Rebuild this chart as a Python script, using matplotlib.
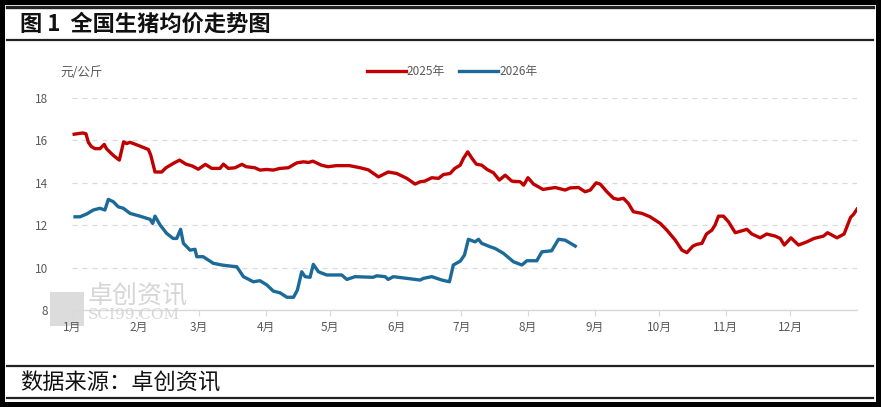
import matplotlib
matplotlib.use("Agg")
import matplotlib.pyplot as plt
from matplotlib.lines import Line2D
from matplotlib.patches import Rectangle

plt.rcParams['font.family'] = ['Noto Sans CJK SC', 'DejaVu Sans']

# x = 年内天数 (1月1日 = 0)
red_days = [1, 5, 6.5, 7.6, 9, 10.7, 13, 15, 16, 19,
            22, 24, 25.4, 27, 31.6, 35.5, 36.6, 38.6, 41.7, 43.7,
            47, 50, 53, 56, 58.7, 62, 65, 68.8, 70.4, 72.7,
            75.8, 79, 81, 85, 87.4, 90.5, 93.6, 96.7, 100.6, 104.5,
            107.6, 110, 112, 116, 119, 123, 129, 134, 137.8, 142.5,
            147, 151, 155.7, 159.5, 161.9, 164, 167.3, 170.4, 172.7, 175.8,
            178, 180.5, 182, 184, 186, 188, 190.5, 193, 196, 198.7,
            201.4, 204.5, 208.4, 210, 212, 214.6, 219, 224.7, 229.3, 231.6,
            235.5, 238.6, 241, 243.7, 245.6, 248.7, 251.8, 254, 256.4, 258.7,
            261, 265, 268.8, 273.5, 276.6, 280.5, 283.6, 285.9, 288.7, 290.5,
            292.9, 295, 297.5, 299, 300.6, 302.9, 305.2, 308.4, 311.5, 313.8,
            316.1, 320, 323, 327, 329.3, 331.2, 334.3, 337.8, 341.7, 345,
            349.4, 351.3, 355.7, 359, 362, 363.5, 365]
price_2025 = [16.28, 16.34, 16.30, 15.9, 15.7, 15.6, 15.6, 15.8, 15.6, 15.3,
              15.06, 15.92, 15.84, 15.9, 15.72, 15.56, 15.3, 14.5, 14.5, 14.7,
              14.9, 15.06, 14.87, 14.78, 14.63, 14.86, 14.67, 14.67, 14.87, 14.67,
              14.7, 14.86, 14.75, 14.7, 14.59, 14.62, 14.59, 14.67, 14.7, 14.93,
              14.98, 14.95, 15.01, 14.82, 14.75, 14.8, 14.8, 14.7, 14.6, 14.27,
              14.5, 14.43, 14.2, 13.93, 14.04, 14.07, 14.23, 14.2, 14.38, 14.43,
              14.67, 14.82, 15.14, 15.45, 15.14, 14.87, 14.82, 14.62, 14.46, 14.12,
              14.35, 14.07, 14.04, 13.88, 14.23, 13.93, 13.68, 13.77, 13.65, 13.75,
              13.77, 13.57, 13.65, 13.99, 13.93, 13.57, 13.26, 13.21, 13.26, 13.02,
              12.63, 12.55, 12.39, 12.08, 11.76, 11.29, 10.82, 10.7, 11.01, 11.09,
              11.14, 11.58, 11.76, 12.0, 12.42, 12.42, 12.16, 11.64, 11.73, 11.8,
              11.58, 11.4, 11.58, 11.48, 11.37, 11.06, 11.4, 11.06, 11.21, 11.37,
              11.48, 11.64, 11.4, 11.58, 12.36, 12.52, 12.75]

blue_days = [1.4, 3.7, 6.8, 9.9, 13, 15.3, 16.9, 19.2, 21.5, 23.9,
             27, 31.6, 36.3, 37.5, 38.6, 41, 44, 47, 48.7, 50.5,
             51.8, 54.9, 57.2, 58, 61, 65.7, 69.6, 73.5, 76.6, 79.7,
             84.3, 87.4, 90.6, 93.6, 96.7, 99.9, 103, 104.8, 106.8, 108.4,
             110.7, 112.2, 114.6, 118.4, 125.4, 127.8, 131.6, 140, 141.7, 145.6,
             147, 149.4, 155.7, 161.9, 163.4, 167.3, 172, 175.5, 177.3, 180.5,
             182.5, 184.3, 187.4, 189, 190.5, 194.4, 196.7, 200.6, 205.3, 209.2,
             211.5, 216.1, 218.5, 223, 226.2, 229.3, 234]
price_2026 = [12.39, 12.39, 12.52, 12.71, 12.79, 12.71, 13.21, 13.1, 12.86, 12.79,
              12.55, 12.42, 12.27, 12.08, 12.42, 12.0, 11.61, 11.37, 11.37, 11.8,
              11.14, 10.82, 10.86, 10.51, 10.51, 10.2, 10.12, 10.07, 10.04, 9.57,
              9.33, 9.38, 9.18, 8.89, 8.81, 8.6, 8.6, 8.94, 9.8, 9.57,
              9.54, 10.15, 9.8, 9.65, 9.65, 9.44, 9.57, 9.54, 9.61, 9.57,
              9.44, 9.57, 9.49, 9.41, 9.49, 9.57, 9.41, 9.33, 10.12, 10.3,
              10.59, 11.33, 11.21, 11.33, 11.14, 10.98, 10.9, 10.67, 10.27, 10.12,
              10.32, 10.32, 10.74, 10.79, 11.33, 11.29, 11.01]

month_starts = [0, 31, 59, 90, 120, 151, 181, 212, 243, 273, 304, 334]
month_labels = ['1月', '2月', '3月', '4月', '5月', '6月',
                '7月', '8月', '9月', '10月', '11月', '12月']
y_ticks = [8, 10, 12, 14, 16, 18]

W, H = 881, 407
fig = plt.figure(figsize=(W / 100, H / 100), dpi=100)
fig.patch.set_facecolor('white')
fig.patch.set_edgecolor('black')
fig.patch.set_linewidth(7)

def fy(p):
    return 1 - p / H

# 标题栏和来源栏的横线
for yy, lw in [(7, 2.4), (40, 1.6), (366, 1.6), (398, 1.6)]:
    fig.add_artist(Line2D([7 / W, 873 / W], [fy(yy), fy(yy)], transform=fig.transFigure,
                          color='#222222', lw=lw))

fig.text(20 / W, fy(24), '图 1  全国生猪均价走势图', fontsize=16, fontweight='bold',
         va='center', ha='left', color='#111111')
fig.text(20 / W, fy(383), '数据来源：卓创资讯', fontsize=16, va='center', ha='left',
         color='#111111')

# 水印
fig.add_artist(Rectangle((50 / W, fy(326)), 34 / W, 34 / H, transform=fig.transFigure,
                         facecolor='#dcdcdc', edgecolor='none', zorder=0))
fig.text(88 / W, fy(295), '卓创资讯', fontsize=18, color='#d6d6d6', va='center', ha='left',
         zorder=0)
fig.text(88 / W, fy(315), 'SCI99.COM', fontsize=11, family='DejaVu Serif', color='#d6d6d6',
         va='center', ha='left', zorder=0)

ax = fig.add_axes([72 / W, 1 - 310 / H, 785 / W, 212.3 / H])
ax.patch.set_alpha(0)
ax.plot(red_days, price_2025, color='#C00000', lw=2.4, label='2025年', solid_joinstyle='round')
ax.plot(blue_days, price_2026, color='#1B6A98', lw=2.4, label='2026年', solid_joinstyle='round')

ax.set_xlim(0, 365)
ax.set_ylim(8, 18)
ax.set_yticks(y_ticks)
ax.set_xticks(month_starts)
ax.set_xticklabels(month_labels)
ax.yaxis.grid(True, linestyle=(0, (4, 4)), color='#d9d9d9', lw=0.9)
ax.set_axisbelow(True)
for s in ['top', 'right', 'left']:
    ax.spines[s].set_visible(False)
ax.spines['bottom'].set_color('#d9d9d9')
ax.spines['bottom'].set_linewidth(1)
ax.tick_params(axis='y', length=0, pad=17, labelsize=8.5, labelcolor='#595959')
ax.tick_params(axis='x', length=4, color='#d9d9d9', pad=4, labelsize=8.5, labelcolor='#595959')

fig.text(60 / W, fy(72), '元/公斤', fontsize=9, color='#595959', va='center', ha='left')
ax.legend(loc='center', bbox_to_anchor=(452 / W, fy(72)), bbox_transform=fig.transFigure,
          ncol=2, frameon=False, fontsize=8.5, handlelength=3.3, columnspacing=1.2,
          handletextpad=0.1, labelcolor='#595959')

fig.savefig('out.png', dpi=100, facecolor=fig.get_facecolor(), edgecolor=fig.get_edgecolor())
